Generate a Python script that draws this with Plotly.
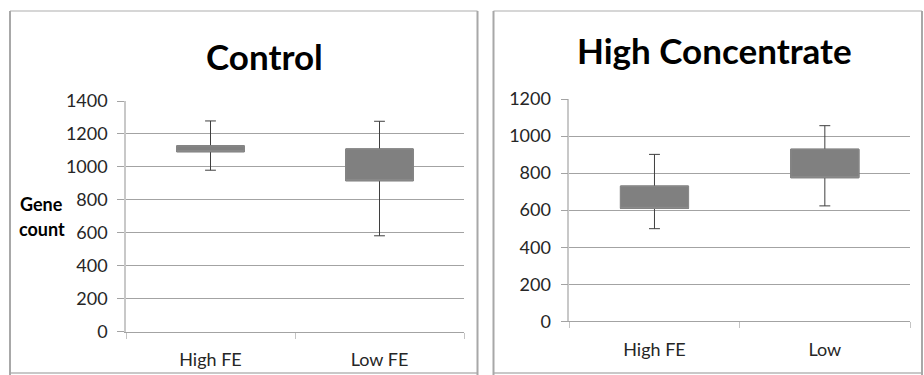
import plotly.graph_objects as go

# ---- data ----
control_categories = ["High FE", "Low FE"]
control_q1 = [1092, 916]
control_q3 = [1128, 1109]
control_low = [980, 582]
control_high = [1279, 1277]
control_yticks = [0, 200, 400, 600, 800, 1000, 1200, 1400]

hc_categories = ["High FE", "Low"]
hc_q1 = [610, 775]
hc_q3 = [730, 929]
hc_low = [500, 623]
hc_high = [901, 1056]
hc_yticks = [0, 200, 400, 600, 800, 1000, 1200]

W, H = 924, 375
def px(x):
    return x / W
def py(y):
    return 1 - y / H

FONT = "Lato"
BOX = "#808080"
WHISK = "#3f3f3f"
GRID = "#a3a3a3"

fig = go.Figure()

def add_panel(cats, q1, q3, lo, hi, xa, ya):
    fig.add_trace(go.Box(
        x=cats, q1=q1, q3=q3, median=q1, lowerfence=lo, upperfence=hi,
        fillcolor=BOX, line=dict(color=WHISK, width=1), width=0.4,
        whiskerwidth=0.16, boxpoints=False, xaxis=xa, yaxis=ya,
        showlegend=False, hoverinfo="skip"))
    fig.add_trace(go.Box(
        x=cats, q1=q1, q3=q3, median=q1, lowerfence=q1, upperfence=q3,
        fillcolor=BOX, line=dict(color="#8c8c8c", width=1), width=0.4,
        whiskerwidth=0, boxpoints=False, xaxis=xa, yaxis=ya,
        showlegend=False, hoverinfo="skip"))

add_panel(control_categories, control_q1, control_q3, control_low, control_high, "x", "y")
add_panel(hc_categories, hc_q1, hc_q3, hc_low, hc_high, "x2", "y2")

xtickfont = dict(family=FONT, size=18, color="#262626")
ytickfont = dict(family=FONT, size=18, color="#262626")

def xaxis_cfg(domain, anchor):
    return dict(domain=domain, anchor=anchor, type="category", range=[-0.5, 1.5],
                showline=True, linecolor=GRID, linewidth=1, ticks="outside",
                tickson="boundaries", ticklen=6, tickcolor="#c4c4c4",
                ticklabelstandoff=12,
                showgrid=False, tickfont=xtickfont, fixedrange=True)

def yaxis_cfg(domain, anchor, ticks, top):
    return dict(domain=domain, anchor=anchor, range=[0, top], tickvals=ticks,
                ticktext=[str(t) for t in ticks], showgrid=True, gridcolor=GRID,
                gridwidth=1, zeroline=False, showline=True, linecolor="#c8c8c8",
                linewidth=1.5, ticks="outside", ticklen=7, tickcolor=GRID,
                ticklabelstandoff=6,
                tickfont=ytickfont, fixedrange=True)

fig.update_layout(
    width=W, height=H, autosize=False,
    margin=dict(l=0, r=0, t=0, b=0, autoexpand=False),
    paper_bgcolor="white", plot_bgcolor="white",
    boxmode="overlay",
    xaxis=xaxis_cfg([px(126), px(464)], "y"),
    yaxis=yaxis_cfg([py(331.7), py(101)], "x", control_yticks, 1400),
    xaxis2=xaxis_cfg([px(569.3), px(910)], "y2"),
    yaxis2=yaxis_cfg([py(321.3), py(99)], "x2", hc_yticks, 1200),
)

# panel borders
for x0, x1 in [(10, 477.5), (493.5, 922)]:
    fig.add_shape(type="line", xref="paper", yref="paper", x0=px(x0), x1=px(x1),
                  y0=py(11), y1=py(11), line=dict(color="#d6d6d6", width=2))
    fig.add_shape(type="line", xref="paper", yref="paper", x0=px(x0), x1=px(x1),
                  y0=py(373), y1=py(373), line=dict(color="#c8c8c8", width=2))
    for xx in (x0, x1):
        fig.add_shape(type="line", xref="paper", yref="paper", x0=px(xx), x1=px(xx),
                      y0=py(11), y1=py(375), line=dict(color="#a8a8a8", width=2))

titlefont = dict(family=FONT, size=35, color="black", weight="bold")
fig.add_annotation(text="<b>Control</b>", xref="paper", yref="paper", x=px(264), y=py(56),
                   xanchor="center", yanchor="middle", showarrow=False, font=titlefont)
fig.add_annotation(text="<b>High Concentrate</b>", xref="paper", yref="paper", x=px(714), y=py(50),
                   xanchor="center", yanchor="middle", showarrow=False, font=titlefont)

labfont = dict(family=FONT, size=18, color="black")
fig.add_annotation(text="<b>Gene</b>", xref="paper", yref="paper", x=px(41), y=py(204),
                   xanchor="center", yanchor="middle", showarrow=False, font=labfont)
fig.add_annotation(text="<b>count</b>", xref="paper", yref="paper", x=px(41.5), y=py(229),
                   xanchor="center", yanchor="middle", showarrow=False, font=labfont)

fig.write_html("out.html", config={"displayModeBar": False},
               post_script="document.body.style.margin='0px';document.body.style.overflow='hidden';")
